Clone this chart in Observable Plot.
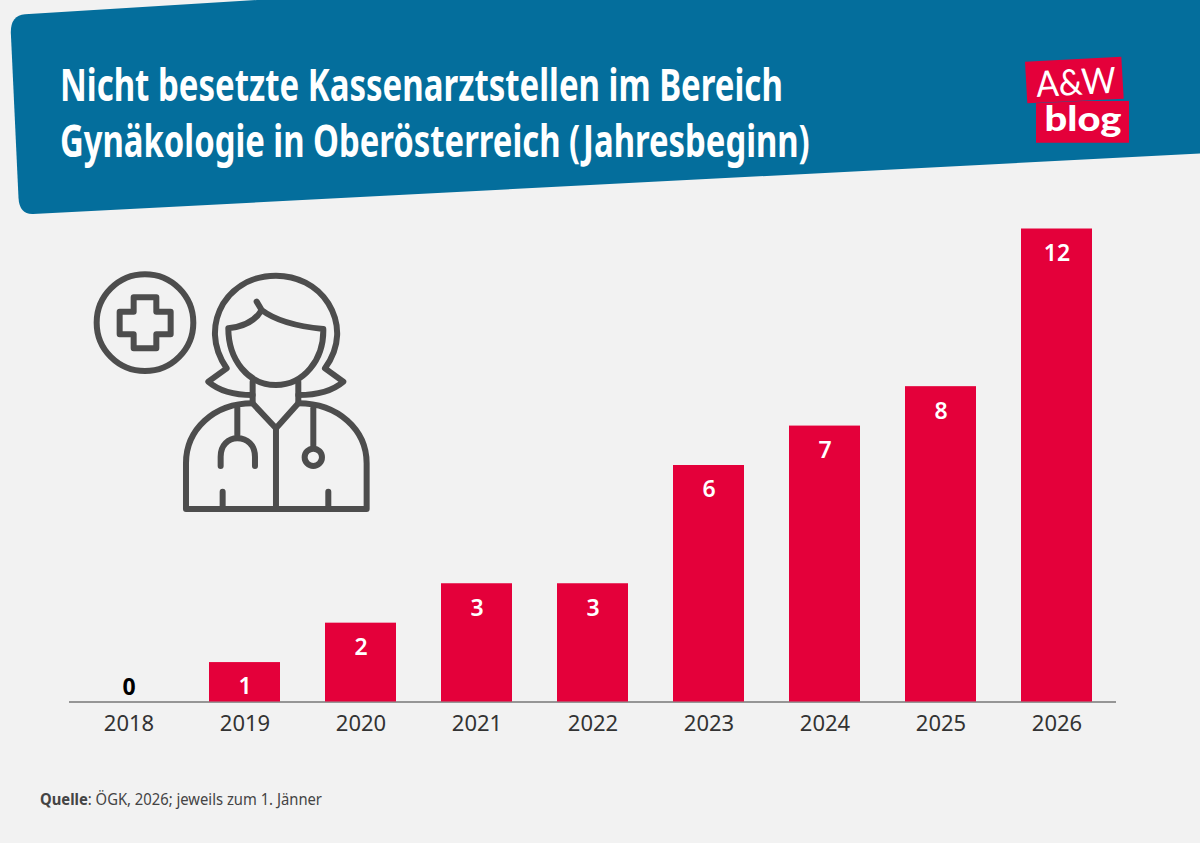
<!DOCTYPE html>
<html lang="de">
<head>
<meta charset="utf-8">
<title>Nicht besetzte Kassenarztstellen</title>
<script src="https://cdn.jsdelivr.net/npm/d3@7"></script>
<script src="https://cdn.jsdelivr.net/npm/@observablehq/plot@0.6"></script>
<style>
  html, body { margin: 0; padding: 0; background: #f2f2f2; overflow: hidden; }
  #stage { position: relative; width: 1200px; height: 843px; background: #f2f2f2; }
  #chart, #deco { position: absolute; left: 0; top: 0; }
  #deco { width: 1200px; height: 843px; }
  #chart svg { background: transparent; display: block; }
</style>
</head>
<body>
<div id="stage">
  <div id="chart"></div>
  <svg id="deco" viewBox="0 0 1200 843" xmlns="http://www.w3.org/2000/svg">
    <path fill="#046e9c" d="M25 14.3 L257 0 L1200 0 L1200 153.5 L33 214 Q19.5 214.5 18.5 198 L10.8 32 Q11 15.2 25 14.3 Z"/>
    <g font-family="'Noto Sans',sans-serif" font-weight="700" fill="#fff" font-size="45">
      <text class="fit" data-x="60" data-y="100.5" data-w="723">Nicht besetzte Kassenarztstellen im Bereich</text>
      <text class="fit" data-x="60" data-y="156.5" data-w="750">Gynäkologie in Oberösterreich (Jahresbeginn)</text>
    </g>
    <path fill="#e4003a" d="M1025 61.7 L1121.3 56.7 L1123.7 98.7 L1027.3 103.3 Z"/>
    <path fill="#e4003a" d="M1036 103.3 L1083 101 L1129 101 L1129 142.7 L1036 142.7 Z"/>
    <text x="1036" y="95" transform="rotate(-3 1073 83)" font-family="Lato,sans-serif" font-weight="400" font-size="36" fill="#fff" textLength="80" lengthAdjust="spacingAndGlyphs">A&amp;W</text>
    <text x="1044.5" y="131" font-family="Lato,sans-serif" font-weight="900" font-size="35" fill="#fff" textLength="77" lengthAdjust="spacingAndGlyphs">blog</text>
    <g transform="translate(80 260) scale(0.3333)" fill="none" stroke="#4d4d4d" stroke-width="18" stroke-linecap="round" stroke-linejoin="round">
      <circle cx="195" cy="188" r="145"/>
      <path d="M161 112 H229 V155 H272 V223 H229 V265 H161 V223 H119 V155 H161 Z"/>
      <path d="M518 405 C470 405 420 395 385 365 L440 325 C395 260 395 190 430 130 C470 70 530 47 588 47 C650 47 710 75 745 130 C782 190 782 260 735 325 L790 365 C755 395 705 405 655 405"/>
      <path d="M530 125 L545 150 C525 185 490 200 445 205 C445 300 505 375 588 375 C670 375 732 300 730 207 C660 200 590 185 545 150"/>
      <path d="M518 365 V430 L588 505 L655 430 V365"/>
      <path d="M588 505 V747"/>
      <path d="M518 430 C400 430 318 510 318 610 V747 H860 V610 C860 510 775 430 655 430"/>
      <path d="M472 445 V535 M422 618 V590 C422 555 445 535 472 535 C502 535 525 555 525 590 V618"/>
      <path d="M700 445 V560"/>
      <circle cx="700" cy="592" r="26"/>
      <path d="M428 695 V747 M745 695 V747"/>
    </g>
    <text x="40" y="805" font-family="'Noto Sans',sans-serif" font-size="15.5" fill="#444" textLength="282" lengthAdjust="spacingAndGlyphs"><tspan font-weight="700">Quelle</tspan>: ÖGK, 2026; jeweils zum 1. Jänner</text>
  </svg>
</div>
<script>
const years = ["2018", "2019", "2020", "2021", "2022", "2023", "2024", "2025", "2026"];
const vacancies = [0, 1, 2, 3, 3, 6, 7, 8, 12];

const rows = years.map((year, i) => ({year, value: vacancies[i]}));

const chart = Plot.plot({
  width: 1200,
  height: 843,
  marginLeft: 69,
  marginRight: 84,
  marginTop: 228.5,
  marginBottom: 141.5,
  style: {background: "transparent", fontFamily: "'Noto Sans', sans-serif"},
  x: {domain: years, paddingInner: 0.388, paddingOuter: 0.196, axis: null},
  y: {domain: [0, 12], axis: null},
  marks: [
    Plot.ruleY([0], {stroke: "#777", strokeWidth: 1.5}),
    Plot.barY(rows.filter(d => d.value > 0), {x: "year", y: "value", fill: "#e4003a"}),
    Plot.text(rows.filter(d => d.value > 0), {
      x: "year", y: "value", text: d => String(d.value),
      fill: "#fff", fontSize: 23, fontWeight: 600, dy: 24.5
    }),
    Plot.text(rows.filter(d => d.value === 0), {
      x: "year", y: "value", text: d => String(d.value),
      fill: "#000", fontSize: 23, fontWeight: 700, dy: -14
    }),
    Plot.axisX({anchor: "bottom", tickSize: 0, tickPadding: 13, fontSize: 22, fill: "#333", label: null})
  ]
});
document.getElementById("chart").appendChild(chart);

// Narrow the title lines to their measured width so that their real extent stays left of the logo.
document.querySelectorAll("text.fit").forEach(t => {
  const k = +t.dataset.w / t.getComputedTextLength();
  t.setAttribute("transform", `translate(${t.dataset.x} ${t.dataset.y}) scale(${k} 1)`);
});
</script>
</body>
</html>
